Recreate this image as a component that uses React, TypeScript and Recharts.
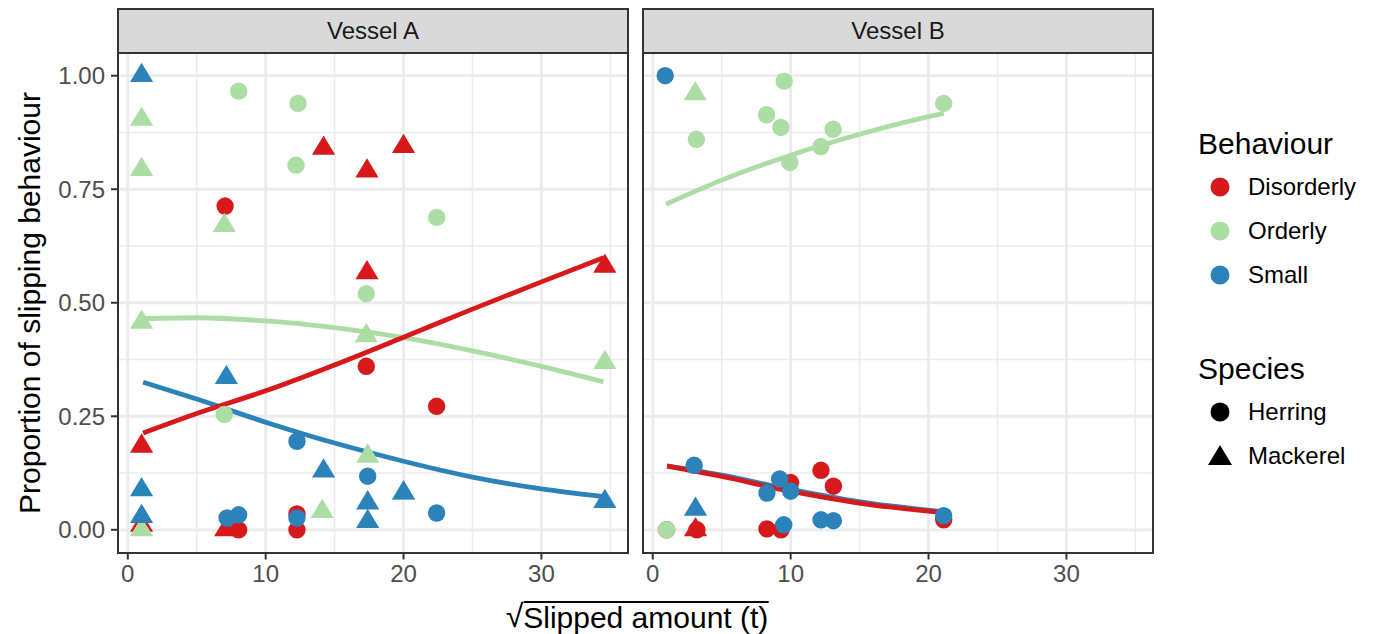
import React from 'react';
import { ComposedChart, Scatter, Line, XAxis, YAxis, ReferenceLine } from 'recharts';

// palette (RColorBrewer Spectral)
const RED = '#D7191C';
const GREEN = '#ABDDA4';
const BLUE = '#2B83BA';
const FONT = '"Liberation Sans", Arial, Helvetica, sans-serif';

const X_DOMAIN = [-0.71, 36.28];
const Y_DOMAIN = [-0.05, 1.05];
const X_TICKS = [0, 10, 20, 30];
const X_MINOR = [5, 15, 25, 35];
const Y_TICKS = [0, 0.25, 0.5, 0.75, 1];
const Y_MINOR = [0.125, 0.375, 0.625, 0.875];

const PANELS = ['Vessel A', 'Vessel B'];

// ---- Vessel A observations: [sqrt slipped amount, proportion]
const aDisorderlyHerring = [[7.06, 0.713], [17.3, 0.36], [22.4, 0.272], [8.04, 0.0], [12.27, 0.035], [12.27, 0.0]];
const aDisorderlyMackerel = [[1.0, 0.184], [1.0, 0.01], [7.1, 0.0], [14.2, 0.84], [17.35, 0.79], [17.35, 0.566], [20.0, 0.844], [34.6, 0.58]];
const aOrderlyHerring = [[8.04, 0.966], [12.35, 0.939], [12.2, 0.803], [17.3, 0.52], [22.4, 0.688], [7.0, 0.254]];
const aOrderlyMackerel = [[1.0, 0.904], [1.0, 0.793], [7.0, 0.67], [1.0, 0.457], [17.3, 0.427], [17.4, 0.162], [14.1, 0.04], [1.0, 0.0], [20.0, 0.08], [34.6, 0.368]];
const aSmallHerring = [[12.27, 0.195], [17.4, 0.118], [7.2, 0.026], [8.04, 0.033], [12.27, 0.026], [22.4, 0.037]];
const aSmallMackerel = [[1.0, 1.0], [7.15, 0.335], [14.2, 0.129], [1.0, 0.088], [1.0, 0.029], [17.4, 0.059], [17.4, 0.018], [20.0, 0.081], [34.6, 0.062]];

// ---- Vessel B observations
const bDisorderlyHerring = [[1.0, 0.0], [3.2, 0.0], [10.0, 0.104], [12.2, 0.131], [13.1, 0.096], [8.28, 0.002], [9.3, 0.0], [21.1, 0.022]];
const bDisorderlyMackerel = [[3.1, 0.0]];
const bOrderlyHerring = [[3.16, 0.86], [9.53, 0.988], [8.25, 0.914], [9.29, 0.886], [13.08, 0.882], [12.19, 0.844], [9.94, 0.809], [21.1, 0.939], [1.0, 0.0]];
const bOrderlyMackerel = [[3.08, 0.96]];
const bSmallHerring = [[0.9, 1.0], [3.0, 0.142], [9.2, 0.112], [8.28, 0.081], [10.0, 0.085], [12.2, 0.022], [13.1, 0.02], [9.5, 0.011], [21.1, 0.031]];
const bSmallMackerel = [[3.1, 0.045]];

// ---- fitted curves
const aOrderlyFit = [[1.11, 0.465], [5.0, 0.467], [10.0, 0.46], [15.0, 0.445], [20.0, 0.423], [25.0, 0.394], [30.0, 0.36], [34.5, 0.326]];
const aDisorderlyFit = [[1.11, 0.213], [5.0, 0.256], [10.0, 0.306], [15.0, 0.363], [20.0, 0.424], [25.0, 0.486], [30.0, 0.546], [34.5, 0.599]];
const aSmallFit = [[1.11, 0.325], [5.0, 0.288], [10.0, 0.237], [15.0, 0.191], [20.0, 0.151], [25.0, 0.116], [30.0, 0.09], [34.5, 0.073]];
const bOrderlyFit = [[0.96, 0.717], [5.0, 0.77], [10.0, 0.825], [15.0, 0.871], [20.0, 0.91], [21.1, 0.917]];
const bDisorderlyFit = [[1.04, 0.14], [4.9, 0.118], [9.98, 0.085], [14.93, 0.059], [20.96, 0.038]];
const bSmallFit = [[1.04, 0.141], [4.9, 0.121], [9.98, 0.089], [14.93, 0.062], [20.96, 0.04]];

const BEHAVIOURS = ['Disorderly', 'Orderly', 'Small'];
const BEHAVIOUR_COLORS = [RED, GREEN, BLUE];
const SPECIES = ['Herring', 'Mackerel'];

const toRows = (pairs: number[][]) => pairs.map(([x, y]) => ({ x, y }));

const makeShape = (color: string, tri: boolean) => (props: any) => {
  const { cx, cy } = props;
  if (cx == null || cy == null) return <g />;
  if (tri) {
    const pts = `${cx},${cy - 12.9} ${cx - 11.6},${cy + 6.4} ${cx + 11.6},${cy + 6.4}`;
    return <polygon points={pts} fill={color} />;
  }
  return <circle cx={cx} cy={cy} r={8.7} fill={color} />;
};

const panelData = [
  {
    points: [
      { d: aDisorderlyHerring, c: RED, tri: false },
      { d: aDisorderlyMackerel, c: RED, tri: true },
      { d: aOrderlyHerring, c: GREEN, tri: false },
      { d: aOrderlyMackerel, c: GREEN, tri: true },
      { d: aSmallHerring, c: BLUE, tri: false },
      { d: aSmallMackerel, c: BLUE, tri: true },
    ],
    curves: [
      { d: aOrderlyFit, c: GREEN },
      { d: aSmallFit, c: BLUE },
      { d: aDisorderlyFit, c: RED },
    ],
  },
  {
    points: [
      { d: bDisorderlyHerring, c: RED, tri: false },
      { d: bDisorderlyMackerel, c: RED, tri: true },
      { d: bOrderlyHerring, c: GREEN, tri: false },
      { d: bOrderlyMackerel, c: GREEN, tri: true },
      { d: bSmallHerring, c: BLUE, tri: false },
      { d: bSmallMackerel, c: BLUE, tri: true },
    ],
    curves: [
      { d: bOrderlyFit, c: GREEN },
      { d: bSmallFit, c: BLUE },
      { d: bDisorderlyFit, c: RED },
    ],
  },
];

const PLOT_TOP = 53;
const PLOT_W = 510;
const PLOT_H = 499.5;
const PANEL_LEFTS = [118, 643];
const Y_AXIS_W = 118;

const tickStyle = { fill: '#4D4D4D', fontSize: 24, fontFamily: FONT };

const Panel: React.FC<{ idx: number }> = ({ idx }) => {
  const showY = idx === 0;
  const { points, curves } = panelData[idx];
  const plotLeft = PANEL_LEFTS[idx];
  const chartLeft = showY ? plotLeft - Y_AXIS_W : plotLeft;
  const chartW = showY ? PLOT_W + Y_AXIS_W : PLOT_W;
  return (
    <>
      <div style={{ position: 'absolute', left: chartLeft, top: PLOT_TOP }}>
        <ComposedChart width={chartW} height={PLOT_H + 48} margin={{ top: 0, right: 0, bottom: 0, left: 0 }}>
          <XAxis type="number" dataKey="x" domain={X_DOMAIN} ticks={X_TICKS} allowDataOverflow height={48}
            axisLine={false} tickSize={7} tickMargin={5} tickLine={{ stroke: '#333333', strokeWidth: 2 }} tick={tickStyle} />
          <YAxis type="number" dataKey="y" domain={Y_DOMAIN} ticks={Y_TICKS} allowDataOverflow width={showY ? Y_AXIS_W : 0}
            hide={!showY} axisLine={false} tickSize={7} tickMargin={6} tickLine={{ stroke: '#333333', strokeWidth: 2 }}
            tick={tickStyle} tickFormatter={(v: number) => v.toFixed(2)} />
          {X_MINOR.map(v => <ReferenceLine key={'xm' + v} x={v} stroke="#EBEBEB" strokeWidth={1.6} />)}
          {Y_MINOR.map(v => <ReferenceLine key={'ym' + v} y={v} stroke="#EBEBEB" strokeWidth={1.6} />)}
          {X_TICKS.map(v => <ReferenceLine key={'xM' + v} x={v} stroke="#EBEBEB" strokeWidth={2.8} />)}
          {Y_TICKS.map(v => <ReferenceLine key={'yM' + v} y={v} stroke="#EBEBEB" strokeWidth={2.8} />)}
          {points.map((p, i) => (
            <Scatter key={'p' + i} data={toRows(p.d)} dataKey="y" shape={makeShape(p.c, p.tri)} isAnimationActive={false} />
          ))}
          {curves.map((c, i) => (
            <Line key={'c' + i} data={toRows(c.d)} dataKey="y" type="monotone" stroke={c.c} strokeWidth={4.8}
              dot={false} activeDot={false} isAnimationActive={false} />
          ))}
        </ComposedChart>
      </div>
      <div style={{
        position: 'absolute', left: plotLeft - 1, top: PLOT_TOP - 1, width: PLOT_W + 2, height: PLOT_H + 2,
        border: '2px solid #333333', boxSizing: 'border-box', pointerEvents: 'none',
      }} />
      <div style={{
        position: 'absolute', left: plotLeft - 1, top: 8, width: PLOT_W + 2, height: PLOT_TOP - 7,
        background: '#D9D9D9', border: '2px solid #333333', boxSizing: 'border-box',
        display: 'flex', alignItems: 'center', justifyContent: 'center',
        fontFamily: FONT, fontSize: 24, color: '#1A1A1A',
      }}>{PANELS[idx]}</div>
    </>
  );
};

const LegendRow: React.FC<{ top: number; label: string; color: string; tri?: boolean }> = ({ top, label, color, tri }) => (
  <div style={{ position: 'absolute', left: 1205, top: top - 12, height: 24, display: 'flex', alignItems: 'center' }}>
    <svg width={30} height={24} style={{ display: 'block' }}>
      {tri
        ? <polygon points="15,1 3,21 27,21" fill={color} />
        : <circle cx={15} cy={12} r={9.5} fill={color} />}
    </svg>
    <span style={{ marginLeft: 13, fontFamily: FONT, fontSize: 24, lineHeight: '24px', color: '#000' }}>{label}</span>
  </div>
);

const App: React.FC = () => {
  return (
    <div style={{ position: 'absolute', left: 0, top: 0, width: 1376, height: 634, background: '#fff', fontFamily: FONT }}>
      <Panel idx={0} />
      <Panel idx={1} />

      {/* y axis title */}
      <div style={{
        position: 'absolute', left: 30, top: 303, transform: 'translate(-50%, -50%) rotate(-90deg)',
        whiteSpace: 'nowrap', fontSize: 30, lineHeight: '30px', color: '#000',
      }}>Proportion of slipping behaviour</div>

      {/* x axis title */}
      <div style={{
        position: 'absolute', left: 637, top: 601, transform: 'translateX(-50%)',
        whiteSpace: 'nowrap', fontSize: 30, lineHeight: '30px', color: '#000', display: 'flex',
      }}>
        <span style={{ fontSize: 32 }}>√</span>
        <span style={{ borderTop: '2px solid #000', paddingTop: 0 }}>Slipped amount (t)</span>
      </div>

      {/* legend */}
      <div style={{ position: 'absolute', left: 1198, top: 129, fontSize: 30, lineHeight: '30px' }}>Behaviour</div>
      {BEHAVIOURS.map((b, i) => (
        <LegendRow key={b} top={187 + i * 44} label={b} color={BEHAVIOUR_COLORS[i]} />
      ))}
      <div style={{ position: 'absolute', left: 1198, top: 354, fontSize: 30, lineHeight: '30px' }}>Species</div>
      {SPECIES.map((s, i) => (
        <LegendRow key={s} top={412 + i * 44} label={s} color="#000" tri={i === 1} />
      ))}
    </div>
  );
};

export default App;
